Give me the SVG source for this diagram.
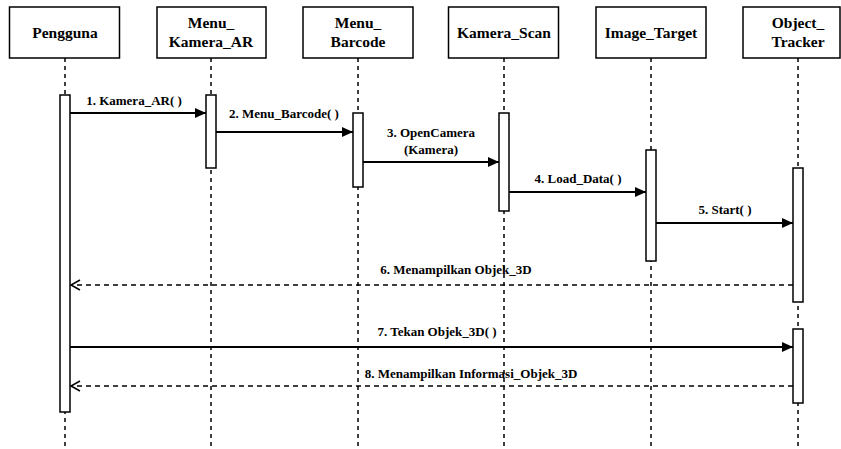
<svg xmlns="http://www.w3.org/2000/svg" width="841" height="449" viewBox="0 0 841 449">
<defs>
<marker id="fill" markerWidth="12" markerHeight="10" refX="11" refY="5" orient="auto" markerUnits="userSpaceOnUse">
<path d="M0,0 L11,5 L0,10 Z" fill="#000"/>
</marker>
<marker id="open" markerWidth="12" markerHeight="12" refX="10" refY="6" orient="auto" markerUnits="userSpaceOnUse">
<path d="M1,1 L10,6 L1,11" fill="none" stroke="#000" stroke-width="1.5"/>
</marker>
</defs>
<rect width="841" height="449" fill="#fff"/>
<g id="lifelines" stroke="#000" stroke-width="1.5" stroke-dasharray="4 4" fill="none">
<line x1="65" y1="58" x2="65" y2="449"/>
<line x1="211" y1="58" x2="211" y2="449"/>
<line x1="358" y1="58" x2="358" y2="449"/>
<line x1="504" y1="58" x2="504" y2="449"/>
<line x1="651" y1="58" x2="651" y2="449"/>
<line x1="798" y1="58" x2="798" y2="449"/>
</g>
<g id="nodes" font-family="Liberation Serif" font-weight="bold" font-size="15.5" text-anchor="middle">
<g id="pengguna">
<rect x="9.5" y="7" width="110" height="51" fill="#fff" stroke="#000" stroke-width="1.5"/>
<text x="65" y="38">Pengguna</text>
<rect x="60" y="95" width="10" height="317" fill="#fff" stroke="#000" stroke-width="1.5"/>
</g>
<g id="menu_kamera_ar">
<rect x="157" y="7" width="109" height="51" fill="#fff" stroke="#000" stroke-width="1.5"/>
<text x="211" y="28">Menu_</text>
<text x="211" y="47">Kamera_AR</text>
<rect x="206" y="95" width="10" height="73" fill="#fff" stroke="#000" stroke-width="1.5"/>
</g>
<g id="menu_barcode">
<rect x="303" y="7" width="110" height="51" fill="#fff" stroke="#000" stroke-width="1.5"/>
<text x="358" y="28">Menu_</text>
<text x="358" y="47">Barcode</text>
<rect x="353" y="113" width="10" height="74" fill="#fff" stroke="#000" stroke-width="1.5"/>
</g>
<g id="kamera_scan">
<rect x="448.5" y="7" width="110" height="51" fill="#fff" stroke="#000" stroke-width="1.5"/>
<text x="504" y="38">Kamera_Scan</text>
<rect x="499" y="113" width="10" height="98" fill="#fff" stroke="#000" stroke-width="1.5"/>
</g>
<g id="image_target">
<rect x="596" y="7" width="110" height="51" fill="#fff" stroke="#000" stroke-width="1.5"/>
<text x="651" y="38">Image_Target</text>
<rect x="646" y="150" width="10" height="111" fill="#fff" stroke="#000" stroke-width="1.5"/>
</g>
<g id="object_tracker">
<rect x="743" y="7" width="97" height="51" fill="#fff" stroke="#000" stroke-width="1.5"/>
<text x="798" y="28">Object_</text>
<text x="798" y="47">Tracker</text>
<rect x="793" y="168" width="10" height="134" fill="#fff" stroke="#000" stroke-width="1.5"/>
<rect x="793" y="329" width="10" height="74" fill="#fff" stroke="#000" stroke-width="1.5"/>
</g>
</g>
<g id="connectors" stroke="#000" fill="none">
<g stroke-width="2">
<line x1="70" y1="113" x2="206" y2="113" marker-end="url(#fill)"/>
<line x1="216" y1="132" x2="353" y2="132" marker-end="url(#fill)"/>
<line x1="363" y1="162" x2="499" y2="162" marker-end="url(#fill)"/>
<line x1="509" y1="192" x2="646" y2="192" marker-end="url(#fill)"/>
<line x1="656" y1="223" x2="793" y2="223" marker-end="url(#fill)"/>
<line x1="70" y1="347" x2="793" y2="347" marker-end="url(#fill)"/>
</g>
<g stroke-width="1.5" stroke-dasharray="5 4">
<line x1="793" y1="285" x2="71" y2="285" marker-end="url(#open)"/>
<line x1="793" y1="386" x2="71" y2="386" marker-end="url(#open)"/>
</g>
</g>
<g id="labels" font-family="Liberation Serif" font-weight="bold" font-size="13" text-anchor="middle" fill="#000">
<text x="134" y="105">1. Kamera_AR( )</text>
<text x="284" y="118">2. Menu_Barcode( )</text>
<text x="431" y="137">3. OpenCamera</text>
<text x="431" y="154">(Kamera)</text>
<text x="578" y="183">4. Load_Data( )</text>
<text x="725" y="214">5. Start( )</text>
<text x="456" y="274">6. Menampilkan Objek_3D</text>
<text x="437" y="336">7. Tekan Objek_3D( )</text>
<text x="471" y="378">8. Menampilkan Informasi_Objek_3D</text>
</g>
</svg>
